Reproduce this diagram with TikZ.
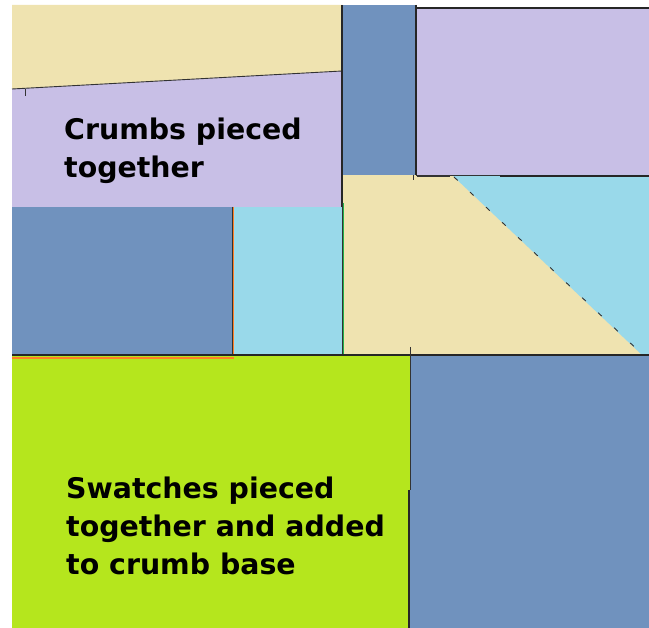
\documentclass[tikz,border=0pt]{standalone}
\usepackage{fontspec}
\setmainfont{DejaVu Sans}
\definecolor{quiltTan}{HTML}{EFE3B0}
\definecolor{quiltLilac}{HTML}{C8BFE6}
\definecolor{quiltBlue}{HTML}{7092BE}
\definecolor{quiltAqua}{HTML}{99D9EA}
\definecolor{quiltLime}{HTML}{B5E61D}
\definecolor{seamOrange}{HTML}{FF7F27}
\definecolor{seamGreen}{HTML}{22B14C}
\begin{document}
\begin{tikzpicture}[
  x=1pt, y=-1pt,
  seam/.style={draw=black!85, line width=1.3pt},
  thinseam/.style={draw=black!80, line width=0.9pt},
  colseam/.style={line width=1.8pt},
  label/.style={font=\bfseries\fontsize{28.4}{38}\selectfont, align=left, anchor=north west, inner sep=0pt, text=black},
]
  \useasboundingbox (0,0) rectangle (649,628);
  % patches of the crumb block
  \fill[quiltTan] (12,5) -- (342,5) -- (342,71) -- (12,89) -- cycle;
  \fill[quiltLilac] (12,89) -- (342,71) -- (342,207) -- (12,207) -- cycle;
  \fill[quiltBlue] (12,207) rectangle (232,356);
  \fill[quiltAqua] (232,207) rectangle (342,356);
  \fill[quiltBlue] (342,5) rectangle (416,175);
  \fill[quiltLilac] (416,8) rectangle (649,175);
  \fill[quiltTan] (342,175) rectangle (649,355);
  \fill[quiltAqua] (452,175) -- (649,175) -- (649,355) -- (642,355) -- cycle;
  % swatches
  \fill[quiltLime] (12,355) rectangle (410,628);
  \fill[quiltBlue] (410,355) rectangle (649,628);
  % coloured seams
  \draw[colseam, seamOrange] (233.5,207) -- (233.5,356);
  \draw[seamOrange, line width=2.6pt] (12,358) -- (233.5,358);
  \draw[colseam, seamGreen] (343.5,203) -- (343.5,356);
  % black seams
  \draw[thinseam] (12,89) -- (342,71);
  \draw[thinseam] (25,89) -- (25,96);
  \draw[seam] (342,5) -- (342,207);
  \draw[thinseam] (342,203) -- (342,356);
  \draw[thinseam] (232,207) -- (232,356);
  \draw[seam] (416,5) -- (416,175);
  \draw[seam] (416,8) -- (649,8);
  \draw[thinseam] (416,175) -- (500,175);
  \draw[seam] (500,176) -- (649,176);
  \draw[thinseam] (413,175) -- (413,180);
  \draw[thinseam] (417,176.5) -- (450,176.5);
  \draw[thinseam, dash pattern=on 5pt off 17pt] (454,177) -- (642,354);
  \draw[seam] (12,355) -- (649,355);
  \draw[thinseam] (410,347) -- (410,490);
  \draw[seam] (409,490) -- (409,628);
  % texts
  \node[label] (crumbs) at (64,117.5) {Crumbs pieced\\together};
  \node[label] (swatches) at (66,476.5) {Swatches pieced\\together and added\\to crumb base};
\end{tikzpicture}
\end{document}
